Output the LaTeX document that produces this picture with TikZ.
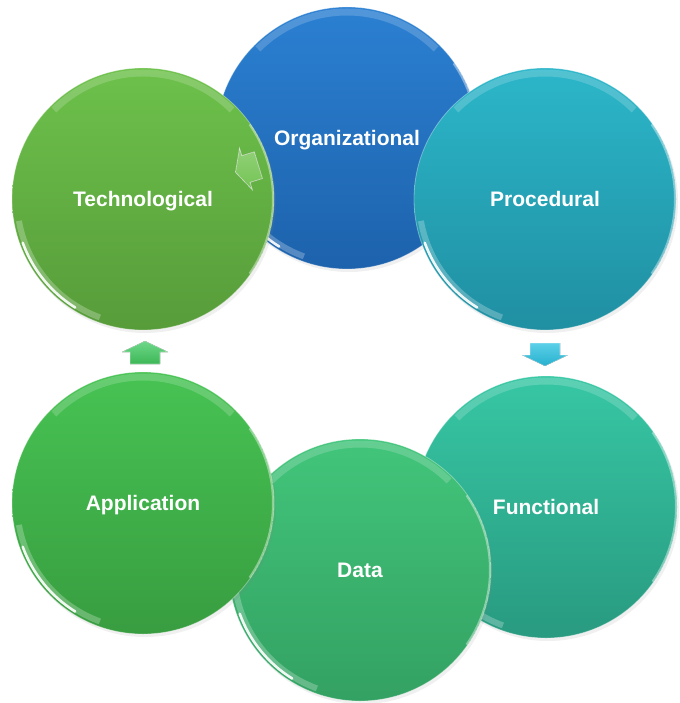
\documentclass[tikz,border=0pt]{standalone}
\usepackage{fontspec}
\setmainfont{Liberation Sans}
\usetikzlibrary{shadows}
\definecolor{orgT}{HTML}{2B80D2}
\definecolor{orgB}{HTML}{1D62AC}
\definecolor{tecT}{HTML}{6DC14B}
\definecolor{tecB}{HTML}{579C3A}
\definecolor{proT}{HTML}{2CB6C9}
\definecolor{proB}{HTML}{208FA2}
\definecolor{funT}{HTML}{37C7A4}
\definecolor{funB}{HTML}{289A80}
\definecolor{datT}{HTML}{42C57B}
\definecolor{datB}{HTML}{33A162}
\definecolor{appT}{HTML}{47C353}
\definecolor{appB}{HTML}{389D40}
\definecolor{arrG}{HTML}{3DB756}
\definecolor{arrGl}{HTML}{6ED88A}
\definecolor{arrB}{HTML}{27B0CE}
\definecolor{arrBl}{HTML}{5CD0E8}
\tikzset{
  ball/.style 2 args={circle, inner sep=0pt, minimum size=262pt, text depth=0pt,
    top color=#1, bottom color=#2, draw=white, draw opacity=0.35, line width=0.8pt,
    text=white, font=\bfseries\fontsize{21}{25}\selectfont,
    drop shadow={opacity=0.12, shadow xshift=2pt, shadow yshift=-3pt},
    path picture={
      \draw[white, opacity=0.25, line width=6pt]
        (path picture bounding box.center) ++(190:126pt) arc[start angle=190, end angle=250, radius=126pt];
      \draw[white, opacity=0.9, line width=2.6pt, line cap=round]
        (path picture bounding box.center) ++(200:128pt) arc[start angle=200, end angle=238, radius=128pt];
      \draw[white, opacity=0.18, line width=7pt]
        (path picture bounding box.center) ++(45:126pt) arc[start angle=45, end angle=135, radius=126pt];
      \draw[white, opacity=0.4, line width=2pt]
        (path picture bounding box.center) ++(-35:130pt) arc[start angle=-35, end angle=35, radius=130pt];
    }},
  arrowshape/.style 2 args={top color=#1, bottom color=#2, draw=white, draw opacity=0.45, line width=0.6pt},
}
\begin{document}
\begin{tikzpicture}[x=1pt,y=-1pt]
\useasboundingbox (0,0) rectangle (679,703);

\node[ball={orgT}{orgB}] (org) at (347,138) {Organizational};
\node[ball={funT}{funB}] (fun) at (546,507) {Functional};
\node[ball={datT}{datB}] (dat) at (360,570) {Data};
\node[ball={appT}{appB}] (app) at (143,503) {Application};
\node[ball={tecT}{tecB}] (tec) at (143,199) {Technological};
\node[ball={proT}{proB}] (pro) at (545,199) {Procedural};

% up arrow (Application -> Technological)
\fill[arrowshape={arrGl}{arrG}] (145,341) -- (168,352) -- (160,352) -- (160,364)
  -- (130,364) -- (130,352) -- (122,352) -- cycle;
% down arrow (Procedural -> Functional)
\fill[arrowshape={arrBl}{arrB}] (545,366) -- (522,355) -- (530,355) -- (530,343)
  -- (560,343) -- (560,355) -- (568,355) -- cycle;
% left arrow on Technological
\fill[arrowshape={tecT!75!white}{tecT!95!white}, draw opacity=0.7]
  (235.5,172.3) -- (239.5,148) -- (241.9,155.6) -- (254.3,151.8)
  -- (262.5,178.5) -- (250.1,182.4) -- (252.5,190) -- cycle;
\end{tikzpicture}
\end{document}
